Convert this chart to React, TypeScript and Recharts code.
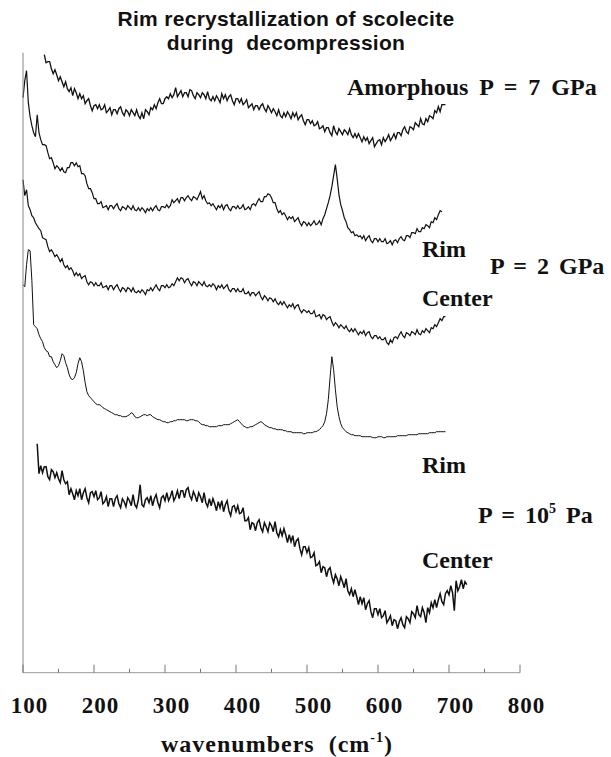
import { LineChart, Line, XAxis, YAxis } from 'recharts'

const _ = null

// shared wavenumber grid (cm-1), one row = 25 cm-1
const wavenumbers = [
  100, 102.5, 105, 107.5, 110, 112.5, 115, 117.5, 120, 122.5,
  125, 127.5, 130, 132.5, 135, 137.5, 140, 142.5, 145, 147.5,
  150, 152.5, 155, 157.5, 160, 162.5, 165, 167.5, 170, 172.5,
  175, 177.5, 180, 182.5, 185, 187.5, 190, 192.5, 195, 197.5,
  200, 202.5, 205, 207.5, 210, 212.5, 215, 217.5, 220, 222.5,
  225, 227.5, 230, 232.5, 235, 237.5, 240, 242.5, 245, 247.5,
  250, 252.5, 255, 257.5, 260, 262.5, 265, 267.5, 270, 272.5,
  275, 277.5, 280, 282.5, 285, 287.5, 290, 292.5, 295, 297.5,
  300, 302.5, 305, 307.5, 310, 312.5, 315, 317.5, 320, 322.5,
  325, 327.5, 330, 332.5, 335, 337.5, 340, 342.5, 345, 347.5,
  350, 352.5, 355, 357.5, 360, 362.5, 365, 367.5, 370, 372.5,
  375, 377.5, 380, 382.5, 385, 387.5, 390, 392.5, 395, 397.5,
  400, 402.5, 405, 407.5, 410, 412.5, 415, 417.5, 420, 422.5,
  425, 427.5, 430, 432.5, 435, 437.5, 440, 442.5, 445, 447.5,
  450, 452.5, 455, 457.5, 460, 462.5, 465, 467.5, 470, 472.5,
  475, 477.5, 480, 482.5, 485, 487.5, 490, 492.5, 495, 497.5,
  500, 502.5, 505, 507.5, 510, 512.5, 515, 517.5, 520, 522.5,
  525, 527.5, 530, 532.5, 535, 537.5, 540, 542.5, 545, 547.5,
  550, 552.5, 555, 557.5, 560, 562.5, 565, 567.5, 570, 572.5,
  575, 577.5, 580, 582.5, 585, 587.5, 590, 592.5, 595, 597.5,
  600, 602.5, 605, 607.5, 610, 612.5, 615, 617.5, 620, 622.5,
  625, 627.5, 630, 632.5, 635, 637.5, 640, 642.5, 645, 647.5,
  650, 652.5, 655, 657.5, 660, 662.5, 665, 667.5, 670, 672.5,
  675, 677.5, 680, 682.5, 685, 687.5, 690, 692.5, 695, 697.5,
  700, 702.5, 705, 707.5, 710, 712.5, 715, 717.5, 720, 722.5,
  725,
]

// intensities, arbitrary units (spectra stacked with offsets)
const amorphous7GPa = [
  _, _, _, _, _, _, _, _, _, _,
  _, _, 618, 610, 611, 611, 604, 599, 603, 598,
  592, 596, 591, 586, 591, 584, 581, 585, 577, 584,
  580, 574, 579, 574, 577, 569, 572, 574, 567, 562,
  567, 568, 564, 568, 563, 564, 568, 560, 562, 565,
  558, 563, 563, 559, 564, 566, 560, 557, 563, 561,
  557, 563, 560, 557, 563, 557, 554, 560, 554, 563,
  561, 558, 565, 563, 568, 564, 570, 574, 569, 569,
  574, 576, 574, 579, 575, 578, 585, 576, 579, 582,
  576, 580, 580, 576, 583, 582, 577, 574, 580, 578,
  575, 580, 578, 574, 581, 574, 572, 576, 572, 577,
  574, 570, 579, 574, 578, 572, 576, 578, 572, 568,
  574, 574, 570, 574, 568, 570, 573, 565, 567, 569,
  563, 567, 567, 563, 567, 569, 564, 561, 567, 564,
  560, 564, 561, 557, 563, 557, 555, 560, 556, 561,
  558, 554, 560, 556, 560, 553, 556, 558, 552, 548,
  553, 553, 549, 552, 547, 548, 551, 544, 545, 547,
  541, 545, 545, 540, 537, 547, 541, 538, 544, 541,
  538, 543, 541, 538, 544, 538, 535, 539, 535, 539,
  535, 531, 536, 532, 535, 529, 532, 535, 526, 529,
  532, 533, 528, 535, 531, 534, 538, 532, 535, 539,
  534, 540, 540, 537, 543, 546, 541, 539, 546, 545,
  543, 550, 548, 546, 554, 549, 548, 554, 551, 557,
  556, 554, 562, 560, 566, 561, 568, 568, 568, _,
  _, _, _, _, _, _, _, _, _, _,
  _,
]

const rim2GPa = [
  575, 592, 602, 570, 556, 547, 540, 536, 558, 540,
  533, 528, 528, 527, 520, 514, 515, 510, 504, 507,
  505, 502, 505, 501, 500, 505, 505, 510, 510, 507,
  510, 506, 507, 499, 499, 497, 489, 484, 484, 480,
  474, 474, 469, 469, 471, 465, 466, 467, 463, 467,
  467, 464, 467, 469, 464, 462, 466, 465, 463, 467,
  465, 463, 467, 463, 462, 465, 462, 465, 463, 460,
  464, 462, 465, 462, 465, 467, 463, 462, 466, 466,
  465, 468, 465, 467, 473, 470, 472, 474, 470, 475,
  475, 472, 475, 477, 474, 472, 476, 475, 473, 477,
  481, 474, 477, 472, 469, 470, 467, 469, 466, 463,
  467, 465, 468, 463, 467, 468, 464, 462, 466, 466,
  464, 467, 464, 465, 468, 463, 464, 466, 463, 468,
  469, 467, 471, 474, 471, 471, 476, 476, 479, 478,
  475, 470, 470, 464, 460, 462, 458, 460, 457, 453,
  456, 454, 456, 451, 453, 455, 450, 447, 451, 450,
  447, 450, 447, 449, 452, 448, 449, 452, 448, 454,
  458, 464, 470, 477, 486, 497, 508, 494, 478, 468,
  462, 455, 451, 445, 443, 440, 441, 437, 438, 436,
  437, 434, 437, 432, 435, 437, 432, 430, 434, 434,
  431, 434, 431, 431, 434, 429, 430, 432, 428, 432,
  433, 430, 434, 436, 433, 432, 437, 437, 435, 440,
  440, 439, 444, 441, 441, 445, 444, 448, 447, 445,
  451, 450, 455, 453, 458, 462, 461, _, _, _,
  _, _, _, _, _, _, _, _, _, _,
  _,
]

const center2GPa = [
  493, 477, 483, 467, 463, 457, 455, 450, 447, 444,
  442, 435, 434, 433, 426, 421, 423, 420, 416, 418,
  415, 411, 414, 408, 405, 407, 403, 405, 402, 397,
  400, 397, 399, 394, 396, 397, 391, 388, 391, 390,
  387, 390, 387, 387, 390, 385, 386, 387, 383, 387,
  387, 383, 386, 388, 384, 381, 385, 384, 381, 385,
  384, 381, 385, 381, 380, 382, 380, 383, 381, 378,
  383, 382, 385, 382, 385, 388, 384, 382, 387, 387,
  385, 388, 385, 386, 389, 387, 391, 395, 392, 395,
  394, 390, 393, 394, 390, 387, 391, 390, 387, 391,
  389, 387, 391, 387, 386, 388, 386, 389, 387, 383,
  387, 385, 388, 384, 386, 388, 383, 381, 384, 384,
  381, 384, 381, 381, 384, 379, 379, 381, 377, 380,
  380, 377, 379, 381, 376, 373, 377, 375, 372, 375,
  374, 371, 374, 370, 368, 371, 368, 371, 368, 365,
  368, 366, 369, 364, 367, 368, 363, 360, 363, 362,
  360, 362, 359, 359, 362, 356, 357, 358, 354, 358,
  357, 353, 355, 356, 351, 347, 350, 348, 345, 348,
  346, 344, 347, 343, 341, 344, 341, 344, 341, 338,
  341, 339, 342, 337, 340, 341, 336, 334, 337, 337,
  334, 336, 333, 333, 335, 330, 328, 333, 330, 335,
  336, 334, 338, 341, 337, 335, 340, 339, 337, 341,
  340, 338, 343, 339, 338, 342, 340, 344, 342, 340,
  345, 344, 348, 346, 350, 354, 352, 356, 356, _,
  _, _, _, _, _, _, _, _, _, _,
  _,
]

const rim1e5Pa = [
  388, 386, 408, 423, 422, 392, 348, 346, 344, 338,
  334, 331, 325, 322, 321, 316, 316, 311, 308, 305,
  307, 312, 319, 317, 310, 305, 298, 294, 293, 295,
  300, 309, 315, 311, 302, 290, 281, 277, 275, 273,
  271, 269, 268, 268, 267, 265, 264, 263, 262, 261,
  260, 259, 258, 258, 257, 257, 256, 256, 256, 257,
  258, 260, 259, 256, 255, 255, 256, 257, 258, 258,
  257, 258, 258, 256, 255, 254, 253, 253, 252, 251,
  251, 250, 250, 251, 251, 252, 252, 253, 253, 253,
  253, 253, 252, 252, 253, 253, 253, 252, 252, 251,
  249, 248, 248, 247, 247, 246, 246, 246, 246, 246,
  247, 247, 247, 248, 248, 248, 248, 249, 250, 251,
  252, 253, 251, 249, 247, 246, 245, 245, 246, 246,
  247, 248, 249, 250, 251, 250, 248, 247, 246, 245,
  245, 244, 244, 243, 243, 243, 243, 242, 242, 241,
  241, 241, 240, 240, 240, 240, 240, 240, 239, 239,
  240, 240, 240, 240, 241, 241, 242, 243, 245, 247,
  251, 259, 273, 295, 316, 303, 283, 266, 256, 249,
  245, 243, 241, 240, 239, 238, 238, 237, 237, 237,
  237, 236, 236, 236, 236, 236, 236, 235, 235, 235,
  236, 236, 236, 235, 235, 236, 236, 236, 236, 236,
  236, 237, 237, 237, 237, 237, 237, 238, 238, 238,
  238, 238, 238, 239, 239, 239, 239, 239, 239, 240,
  240, 240, 240, 241, 241, 241, 241, 241, 241, _,
  _, _, _, _, _, _, _, _, _, _,
  _,
]

const center1e5Pa = [
  _, _, _, _, _, _, _, _, 229, 199,
  207, 200, 206, 206, 196, 193, 203, 201, 195, 200,
  194, 190, 202, 193, 189, 191, 178, 184, 179, 173,
  182, 177, 184, 173, 180, 184, 175, 170, 180, 181,
  176, 182, 173, 175, 181, 169, 171, 176, 166, 174,
  174, 166, 174, 177, 169, 165, 174, 171, 166, 175,
  172, 167, 178, 168, 165, 173, 188, 168, 166, 173,
  175, 170, 177, 167, 174, 178, 170, 165, 175, 177,
  172, 180, 172, 176, 182, 172, 176, 182, 174, 182,
  182, 175, 183, 185, 177, 173, 181, 177, 171, 180,
  176, 170, 180, 170, 166, 174, 167, 174, 169, 162,
  171, 165, 172, 161, 168, 172, 162, 157, 166, 167,
  161, 167, 159, 160, 165, 152, 152, 155, 143, 150,
  149, 142, 150, 153, 145, 141, 150, 146, 141, 150,
  147, 141, 151, 140, 136, 143, 137, 144, 138, 130,
  138, 131, 137, 126, 132, 134, 124, 118, 126, 126,
  120, 125, 115, 116, 120, 107, 108, 111, 100, 106,
  105, 96, 103, 105, 96, 90, 98, 94, 87, 96,
  91, 85, 94, 82, 78, 84, 76, 83, 76, 68,
  76, 69, 75, 63, 69, 72, 61, 55, 64, 64,
  58, 64, 55, 57, 62, 50, 53, 57, 47, 53,
  52, 44, 51, 55, 48, 45, 56, 54, 50, 61,
  59, 55, 67, 58, 56, 65, 60, 50, 65, 60,
  70, 65, 73, 65, 73, 79, 71, 68, 79, 82,
  78, 87, 80, 62, 92, 82, 86, 93, 84, 91,
  88,
]

const xTicks = [100, 150, 200, 250, 300, 350, 400, 450, 500, 550, 600, 650, 700, 750, 800]

const data = wavenumbers.map((wn, i) => ({
  wn,
  amorphous: amorphous7GPa[i],
  rim2: rim2GPa[i],
  center2: center2GPa[i],
  rim1e5: rim1e5Pa[i],
  center1e5: center1e5Pa[i],
}))

const serif = '"Liberation Serif", "Times New Roman", serif'
const sans = '"Liberation Sans", Arial, sans-serif'

const WaveTick = (props: any) => {
  const { x, y, payload } = props
  const major = payload.value % 100 === 0
  return (
    <g>
      <line x1={x} x2={x} y1={y} y2={y - (major ? 8 : 4)} stroke="#777" strokeWidth={1} />
      {major && (
        <text x={x + 6.5} y={y + 40.5} textAnchor="middle" fontFamily={serif} fontWeight="bold"
          fontSize={23} letterSpacing={1} fill="#111">
          {payload.value}
        </text>
      )}
    </g>
  )
}

const labelStyle = { fontFamily: serif, fontWeight: 'bold' as const, fontSize: 24, fill: '#111', whiteSpace: 'pre' as const }

export default function App() {
  return (
    <div style={{ position: 'absolute', left: 0, top: 0, width: 611, height: 757, background: '#fff' }}>
      <LineChart width={611} height={757} data={data} margin={{ top: 52.7, right: 91, bottom: 44.3, left: 3 }}>
        <XAxis dataKey="wn" type="number" domain={[100, 800]} ticks={xTicks} height={40}
          tickSize={0} tickMargin={0} tickLine={false} tick={<WaveTick />}
          axisLine={{ stroke: '#999', strokeWidth: 1 }} interval={0} />
        <YAxis type="number" domain={[0, 620]} width={20} tick={false} tickLine={false}
          axisLine={{ stroke: '#888', strokeWidth: 1 }} />
        <Line dataKey="amorphous" stroke="#111" strokeWidth={1.3} dot={false} isAnimationActive={false} />
        <Line dataKey="rim2" stroke="#111" strokeWidth={1.2} dot={false} isAnimationActive={false} />
        <Line dataKey="center2" stroke="#111" strokeWidth={1.2} dot={false} isAnimationActive={false} />
        <Line dataKey="rim1e5" stroke="#111" strokeWidth={1} dot={false} isAnimationActive={false} />
        <Line dataKey="center1e5" stroke="#111" strokeWidth={1.5} dot={false} isAnimationActive={false} />
      </LineChart>
      <svg width={611} height={757} style={{ position: 'absolute', left: 0, top: 0, pointerEvents: 'none' }}>
        <text x={286} y={26} textAnchor="middle" fontFamily={sans} fontWeight="bold" fontSize={21}
          letterSpacing={0.3} fill="#111">Rim recrystallization of scolecite</text>
        <text x={286} y={50} textAnchor="middle" fontFamily={sans} fontWeight="bold" fontSize={21}
          letterSpacing={0.3} fill="#111" style={{ whiteSpace: 'pre' }}>during  decompression</text>

        <text x={347} y={95} style={labelStyle} wordSpacing={5}>Amorphous P = 7 GPa</text>
        <text x={422} y={257} style={labelStyle}>Rim</text>
        <text x={490} y={274} style={labelStyle} wordSpacing={4}>P = 2 GPa</text>
        <text x={422} y={306} style={labelStyle}>Center</text>
        <text x={422} y={473} style={labelStyle}>Rim</text>
        <text x={478} y={523} style={labelStyle} wordSpacing={4}>
          P = 10<tspan dy={-10} fontSize={14}>5</tspan><tspan dy={10}> Pa</tspan>
        </text>
        <text x={422} y={568} style={labelStyle}>Center</text>

        <text x={277} y={752} textAnchor="middle" style={labelStyle} letterSpacing={1}>
          wavenumbers  (cm<tspan dy={-10} fontSize={14}>-1</tspan><tspan dy={10}>)</tspan>
        </text>
      </svg>
    </div>
  )
}
